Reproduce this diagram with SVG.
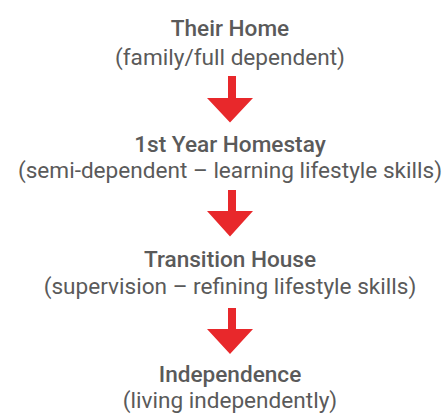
<svg xmlns="http://www.w3.org/2000/svg" width="443" height="414" viewBox="0 0 443 414">
<style>
text{font-family:Roboto,"Liberation Sans",sans-serif;fill:#5a5a5a;text-anchor:middle;font-size:22.6px}
.t{font-weight:500}
.arrow{fill:#e8282b}
</style>
<rect width="443" height="414" fill="#fff"/>
<g id="node1"><text class="t" x="230" y="36">Their Home</text><text x="230" y="65">(family/full dependent)</text></g>
<g id="node2"><text class="t" x="230" y="152">1st Year Homestay</text><text x="230" y="178">(semi-dependent – learning lifestyle skills)</text></g>
<g id="node3"><text class="t" x="230" y="267">Transition House</text><text x="230" y="294">(supervision – refining lifestyle skills)</text></g>
<g id="node4"><text class="t" x="230" y="382">Independence</text><text x="230" y="408">(living independently)</text></g>
<g id="connectors">
<polygon class="arrow" points="228,76 236,76 236,98 253,98 230,122.5 207,98 228,98"/>
<polygon class="arrow" points="228,190 236,190 236,211 253,211 230,236.5 207,211 228,211"/>
<polygon class="arrow" points="228,308 236,308 236,329 253,329 230,354 207,329 228,329"/>
</g>
</svg>
